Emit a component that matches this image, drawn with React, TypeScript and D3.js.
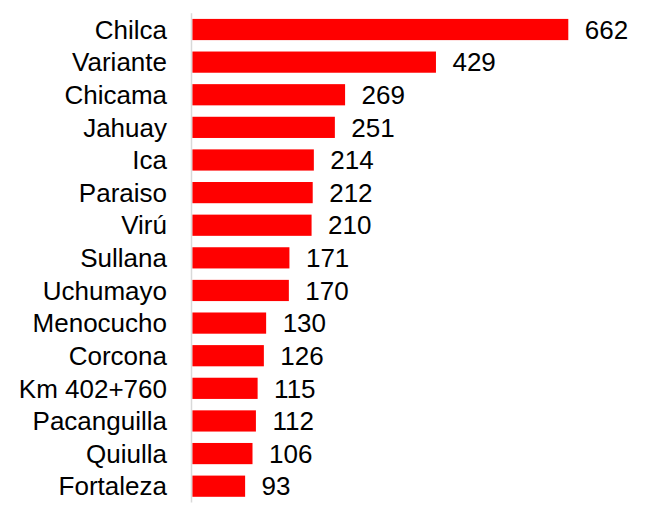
import React from "react";
import * as d3 from "d3";

const categories = ["Chilca","Variante","Chicama","Jahuay","Ica","Paraiso","Virú","Sullana","Uchumayo","Menocucho","Corcona","Km 402+760","Pacanguilla","Quiulla","Fortaleza"];
const values = [662,429,269,251,214,212,210,171,170,130,126,115,112,106,93];

export default function App() {
  const W = 646, H = 508;
  const x = d3.scaleLinear().domain([0, 662]).range([192.3, 568.3]);
  const y = d3.scaleBand<string>().domain(categories).range([13.2, 502.5]).paddingInner(0.35).paddingOuter(0.175);
  const font = "'Liberation Sans', Arial, sans-serif";
  const fs = 26;
  return (
    <svg width={W} height={H} style={{ position: "absolute", left: 0, top: 0, background: "#fff" }}>
      {categories.map((c, i) => {
        const yc = (y(c) as number) + y.bandwidth() / 2;
        return (
          <g key={c}>
            <rect x={x(0)} y={y(c)} width={x(values[i]) - x(0)} height={y.bandwidth()} fill="#ff0000" />
            <text x={167} y={yc + 9.2} textAnchor="end" fontFamily={font} fontSize={fs} fill="#000">{c}</text>
            <text x={x(values[i]) + 16.5} y={yc + 9.2} textAnchor="start" fontFamily={font} fontSize={fs} fill="#000">{values[i]}</text>
          </g>
        );
      })}
      <line x1={191.5} x2={191.5} y1={13.2} y2={502.5} stroke="#d9d9d9" strokeWidth={1.5} />
    </svg>
  );
}
